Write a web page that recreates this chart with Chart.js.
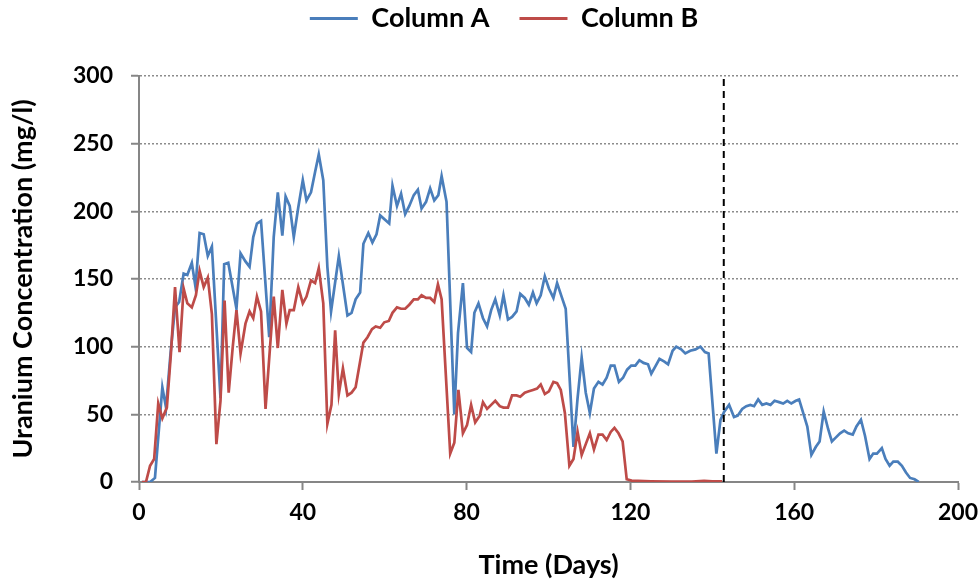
<!DOCTYPE html>
<html>
<head>
<meta charset="utf-8">
<script src="https://cdn.jsdelivr.net/npm/chart.js@4"></script>
<style>
  body { margin: 0; background: #fff; }
</style>
</head>
<body>
<canvas id="uranium" width="980" height="583"></canvas>
<script>
// sampling days and concentrations (mg/l) for each column
const daysA = [0.7, 1.7, 2.7, 3.9, 5.7, 6.6, 7.7, 8.8, 9.8, 10.9, 11.8, 12.9, 13.8, 14.8, 15.8, 16.8, 17.8, 19.9, 20.8, 21.8,
  23.8, 24.8, 26, 27, 27.9, 28.8, 29.8, 31.8, 32.9, 33.9, 35, 35.8, 36.8, 37.8, 38.9, 40, 40.9, 42, 43, 43.9,
  45, 46, 46.9, 48.8, 50.9, 51.9, 52.9, 54, 54.8, 56, 57, 58, 58.9, 61.1, 61.9, 63, 64, 65, 66, 67.1,
  68.1, 69, 70.1, 71.1, 72.1, 73.1, 73.9, 75.1, 77, 77.9, 79.1, 80.1, 81.1, 81.9, 82.9, 84, 85, 86, 87, 88.1,
  89, 90.1, 91.1, 92.2, 93.1, 94.2, 95.2, 96.2, 97.1, 98.1, 99.1, 100.1, 101.2, 102.1, 103.2, 104.2, 106.1, 107.1, 108.1, 109.1,
  110.1, 111.1, 112.2, 113.2, 114.2, 115.2, 116.1, 117.2, 118.2, 119.2, 120.2, 121.2, 122.2, 123.2, 124.3, 125.1, 126.2, 127.1, 128.3, 129.2,
  130.3, 131.2, 132.4, 133.4, 134.6, 135.9, 137.1, 138.2, 139.1, 141, 142, 142.9, 144.1, 145.3, 146.2, 147.3, 148.3, 149.3, 150.2, 151.2,
  152.2, 153.2, 154.2, 155.2, 156.3, 157.3, 158.3, 159.3, 160.4, 161.2, 162.3, 163.2, 164.2, 165.3, 166.2, 167.2, 168.3, 169.2, 170.2, 171.2,
  172.2, 173.2, 174.3, 175.2, 176.3, 177.3, 178.4, 179.3, 180.2, 181.4, 182.3, 183.3, 184.2, 185.3, 186.3, 187.3, 188.3, 189.4, 190.4];
const columnA = [0, 0, 0, 3, 70, 55, 95, 129, 133, 154, 153, 162, 144, 184, 183, 167, 174, 62, 161, 162,
  128, 169, 163, 159, 181, 191, 193, 107, 181, 214, 182, 211, 204, 181, 203, 223, 208, 214, 229, 242,
  223, 159, 126, 167, 123, 125, 135, 140, 176, 184, 177, 183, 197, 191, 219, 204, 213, 198, 204, 212,
  216, 202, 207, 217, 208, 212, 226, 207, 50, 110, 147, 99, 96, 125, 132, 121, 115, 127, 135, 123,
  138, 120, 122, 126, 139, 136, 131, 140, 132, 138, 152, 143, 136, 147, 137, 128, 26, 62, 92, 66,
  51, 69, 74, 72, 77, 86, 86, 74, 77, 83, 86, 86, 90, 88, 87, 80, 86, 91, 89, 87,
  97, 100, 98, 95, 97, 98, 100, 96, 95, 21, 46, 52, 57, 48, 49, 54, 56, 57, 56, 61,
  57, 58, 57, 60, 59, 58, 60, 58, 60, 61, 50, 41, 20, 26, 30, 52, 39, 30, 33, 36,
  38, 36, 35, 41, 46, 34, 17, 21, 21, 25, 17, 12, 15, 15, 12, 7, 3, 2, 0];

const daysB = [0.7, 1.7, 2.7, 3.7, 4.7, 5.7, 6.8, 7.8, 8.8, 9.9, 10.9, 11.8, 12.9, 13.9, 14.8, 15.8, 16.8, 17.8, 18.9, 19.9,
  20.9, 21.9, 22.9, 23.8, 24.8, 26, 27, 27.9, 28.8, 29.8, 30.9, 32.9, 33.9, 35, 36, 36.8, 37.8, 38.9, 40, 40.9,
  42, 43, 43.9, 45, 46, 47, 47.9, 48.8, 49.8, 50.9, 51.9, 52.9, 54.8, 55.8, 56.9, 57.8, 58.9, 59.9, 61, 61.9,
  63, 64, 65, 66, 67.1, 68.1, 69, 70.1, 71.1, 72.1, 73, 73.9, 76, 77, 78, 79.1, 80.1, 81.1, 82.1, 83.2,
  84, 85, 86, 87, 88.1, 89, 90.1, 91.1, 92.2, 93.1, 94.2, 95.2, 96.2, 97.2, 98.1, 99.1, 100.1, 101.2, 102.1, 103,
  104, 105.1, 106.1, 107.1, 108.1, 109.1, 110.1, 111.1, 112.2, 113.2, 114.2, 115.2, 116.1, 117.1, 118.1, 119.1, 120.3, 125, 130, 135,
  138, 140, 142.4];
const columnB = [0, 0, 12, 17, 58, 47, 55, 95, 144, 96, 143, 132, 129, 138, 156, 144, 151, 124, 28, 60,
  134, 66, 100, 127, 95, 117, 126, 121, 137, 126, 54, 137, 99, 142, 117, 127, 127, 144, 132, 137,
  149, 147, 158, 132, 43, 57, 112, 65, 84, 64, 66, 70, 103, 107, 113, 115, 114, 118, 119, 125,
  129, 128, 128, 131, 135, 135, 138, 136, 136, 133, 146, 135, 21, 29, 68, 36, 42, 57, 44, 49,
  59, 54, 57, 60, 56, 55, 55, 64, 64, 63, 66, 67, 68, 69, 72, 65, 67, 74, 73, 68,
  51, 12, 17, 37, 20, 28, 36, 24, 35, 35, 31, 37, 40, 36, 30, 2, 1, 0.5, 0.3, 0.3,
  0.8, 0.5, 0.5];

const cutoverDay = 142.8;
const xTicks = [0, 40, 80, 120, 160, 200];
const yTicks = [0, 50, 100, 150, 200, 250, 300];

const toPoints = (xs, ys) => xs.map((x, i) => ({ x: x, y: ys[i] }));

Chart.defaults.font.family = 'Lato, "Open Sans", sans-serif';
Chart.defaults.font.weight = 'bold';
Chart.defaults.font.size = 23;
Chart.defaults.color = '#000';

// legend: fixed height above the plot, nudged to sit over the plot centre
const legendBox = {
  id: 'legendBox',
  beforeInit(chart) {
    const fit = chart.legend.fit;
    chart.legend.fit = function () {
      fit.call(this);
      this.height = 76;
    };
  },
  afterLayout(chart) {
    chart.legend.left += 44;
    chart.legend.top -= 25;
  }
};

const axisGrey = '#868686';

const ctx = document.getElementById('uranium').getContext('2d');
const uranium = new Chart(ctx, {
  type: 'line',
  data: {
    datasets: [{
      label: 'Column A',
      data: toPoints(daysA, columnA),
      borderColor: '#4a7ebb',
      backgroundColor: '#4a7ebb',
      borderWidth: 2.7,
      pointRadius: 0,
      order: 2
    }, {
      label: 'Column B',
      data: toPoints(daysB, columnB),
      borderColor: '#be4b48',
      backgroundColor: '#be4b48',
      borderWidth: 2.7,
      pointRadius: 0,
      order: 1
    }, {
      label: 'cutover',
      data: [{ x: cutoverDay, y: 0 }, { x: cutoverDay, y: 300 }],
      borderColor: '#000',
      borderWidth: 2,
      borderDash: [7, 5],
      pointRadius: 0,
      order: 0
    }]
  },
  options: {
    responsive: false,
    animation: false,
    layout: {
      padding: { left: 6, right: 22, top: 0, bottom: 0 }
    },
    scales: {
      x: {
        type: 'linear',
        min: 0,
        max: 200,
        afterBuildTicks: axis => { axis.ticks = xTicks.map(v => ({ value: v })); },
        afterFit: axis => {
          axis.height = 101;
          axis.paddingLeft = 0;
          axis.paddingRight = 0;
        },
        ticks: { padding: 9, font: { size: 23 } },
        grid: {
          drawOnChartArea: false,
          drawTicks: true,
          tickLength: 8,
          tickColor: axisGrey,
          tickWidth: 2
        },
        border: { color: axisGrey, width: 2 },
        title: {
          display: true,
          text: 'Time (Days)',
          font: { size: 27 },
          padding: { top: 0, bottom: 2 }
        }
      },
      y: {
        min: 0,
        max: 300,
        afterBuildTicks: axis => { axis.ticks = yTicks.map(v => ({ value: v })); },
        afterFit: axis => { axis.width = 133; },
        ticks: { padding: 18, font: { size: 23 } },
        grid: {
          color: '#8c8c8c',
          lineWidth: 1.5,
          drawTicks: true,
          tickLength: 8,
          tickColor: axisGrey,
          tickWidth: 2,
          tickBorderDash: []
        },
        border: { color: axisGrey, width: 2, dash: [2, 2] },
        title: {
          display: true,
          text: 'Uranium Concentration (mg/l)',
          font: { size: 27 },
          padding: { top: 1, bottom: 0 }
        }
      }
    },
    plugins: {
      legend: {
        position: 'top',
        labels: {
          boxWidth: 48,
          boxHeight: 3,
          padding: 30,
          font: { size: 27 },
          sort: (a, b) => a.datasetIndex - b.datasetIndex,
          generateLabels(chart) {
            return Chart.defaults.plugins.legend.labels.generateLabels(chart)
              .filter(item => item.datasetIndex < 2)
              .map(item => Object.assign(item, { lineWidth: 0, fillStyle: item.strokeStyle }));
          }
        }
      },
      tooltip: { enabled: false }
    }
  },
  plugins: [legendBox]
});
</script>
</body>
</html>
